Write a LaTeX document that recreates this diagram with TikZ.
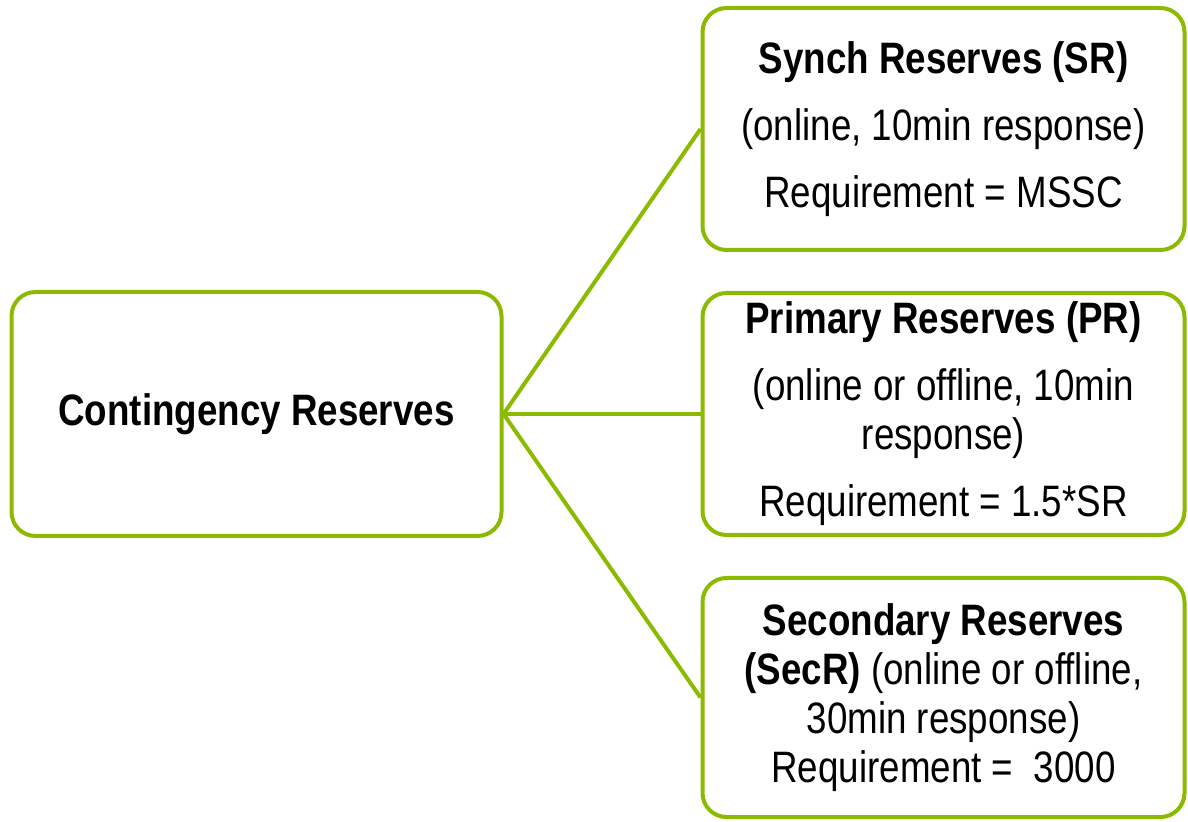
\documentclass[tikz,border=0pt]{standalone}
\usepackage{fontspec}
\setmainfont{Liberation Sans}[FakeStretch=0.835]
\usetikzlibrary{positioning}
\definecolor{reservegreen}{RGB}{140,186,0}

\begin{document}
\begin{tikzpicture}[x=0.5pt,y=-0.5pt,
    mybox/.style={
       rectangle,
       rounded corners=12pt,
       draw=reservegreen,
       line width=2pt,
       fill=white,
       align=center,
       inner sep=0pt,
       minimum width=241pt,
       minimum height=121pt,
       font=\fontsize{22}{24.5}\selectfont},
    myline/.style={draw=reservegreen, line width=2pt},
    node distance=19.5pt and 98.5pt
    ]
    \useasboundingbox (0,0) rectangle (1188,822);

    \node[mybox,minimum width=245pt,minimum height=122pt] (cr) at (256.5,414)
        {\textbf{Contingency Reserves}};
    \node[mybox,right=of cr] (pr)
        {\textbf{Primary Reserves (PR)}\\[9pt](online or offline, 10min\\response)\\[9pt]Requirement = 1.5*SR};
    \node[mybox,above=of pr] (sr)
        {\textbf{Synch Reserves (SR)}\\[9pt](online, 10min response)\\[9pt]Requirement = MSSC};
    \node[mybox,below=of pr,minimum height=119.5pt] (secr)
        {\textbf{Secondary Reserves}\\\textbf{(SecR)} (online or offline,\\30min response)\\Requirement = \ 3000};

  % one line from the left box to each reserve type
  \foreach \j in {sr,pr,secr}
     \draw[myline] (cr.east) -- (\j.west);
\end{tikzpicture}
\end{document}
